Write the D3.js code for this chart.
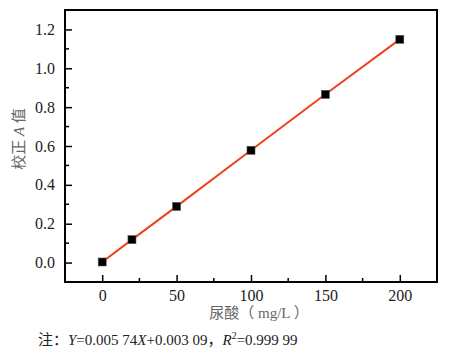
<!DOCTYPE html>
<html>
<head>
<meta charset="utf-8">
<script src="https://cdn.jsdelivr.net/npm/d3@7"></script>
<style>
  body { margin: 0; background: #fff; }
  svg text { font-family: "Liberation Serif", "Noto Sans CJK SC", serif; }
</style>
</head>
<body>
<svg id="chart" width="458" height="353"></svg>
<script>
const conc = [0, 20, 50, 100, 150, 200];
const absorb = [0.003, 0.118, 0.289, 0.578, 0.866, 1.149];
const xTicks = [0, 50, 100, 150, 200];
const yTicks = [0.0, 0.2, 0.4, 0.6, 0.8, 1.0, 1.2];

const svg = d3.select("#chart");
const margin = { top: 10, right: 21, bottom: 71, left: 65 };
const width = +svg.attr("width");
const height = +svg.attr("height");
const innerWidth = width - margin.left - margin.right;
const innerHeight = height - margin.top - margin.bottom;
const font = "Liberation Serif, Noto Sans CJK SC, serif";

const x = d3.scaleLinear().domain([-25, 225]).range([0, innerWidth]);
const y = d3.scaleLinear().domain([-0.1, 1.3]).range([innerHeight, 0]);

const g = svg.append("g").attr("transform", `translate(${margin.left},${margin.top})`);

// frame
g.append("rect")
  .attr("width", innerWidth)
  .attr("height", innerHeight)
  .attr("fill", "none")
  .attr("stroke", "#000")
  .attr("stroke-width", 2);

// minor ticks (inward)
const yMinor = [-0.1, 0.1, 0.3, 0.5, 0.7, 0.9, 1.1];
g.selectAll("line.ymin")
  .data(yMinor)
  .join("line")
  .attr("x1", 0).attr("x2", 4)
  .attr("y1", d => y(d)).attr("y2", d => y(d))
  .attr("stroke", "#000").attr("stroke-width", 1.5);

g.selectAll("line.xmin")
  .data([25, 75, 125, 175])
  .join("line")
  .attr("x1", d => x(d)).attr("x2", d => x(d))
  .attr("y1", innerHeight).attr("y2", innerHeight - 4)
  .attr("stroke", "#000").attr("stroke-width", 1.5);

//y axis
const yAxis = g.append("g")
  .call(d3.axisLeft(y).tickValues(yTicks).tickFormat(d3.format(".1f")).tickSize(-7).tickPadding(10));
yAxis.attr("font-family", font).attr("font-size", 16);
yAxis.select(".domain").remove();
yAxis.selectAll("line").attr("stroke-width", 1.5);
yAxis.selectAll("text").attr("fill", "#222");

//x axis
const xAxis = g.append("g")
  .attr("transform", `translate(0,${innerHeight})`)
  .call(d3.axisBottom(x).tickValues(xTicks).tickSize(-7).tickPadding(8));
xAxis.attr("font-family", font).attr("font-size", 16);
xAxis.select(".domain").remove();
xAxis.selectAll("line").attr("stroke-width", 1.5);
xAxis.selectAll("text").attr("fill", "#222");

// line through points
const pts = conc.map((c, i) => [c, absorb[i]]);
g.append("path")
  .datum(pts)
  .attr("fill", "none")
  .attr("stroke", "#f0401e")
  .attr("stroke-width", 2)
  .attr("d", d3.line().x(d => x(d[0])).y(d => y(d[1])));

// markers
g.selectAll("rect.pt")
  .data(pts)
  .join("rect")
  .attr("class", "pt")
  .attr("x", d => x(d[0]) - 4)
  .attr("y", d => y(d[1]) - 4)
  .attr("width", 8)
  .attr("height", 8)
  .attr("fill", "#000")
  .attr("stroke", "#555")
  .attr("stroke-width", 0.6);

// labels
const yl = svg.append("text")
  .attr("transform", "translate(24,139) rotate(-90)")
  .attr("text-anchor", "middle")
  .attr("font-size", 15)
  .attr("fill", "#666");
yl.append("tspan").text("校正 ");
yl.append("tspan").attr("font-style", "italic").text("A");
yl.append("tspan").text(" 值");

svg.append("text")
  .attr("x", 259)
  .attr("y", 318)
  .attr("text-anchor", "middle")
  .attr("font-size", 15)
  .attr("fill", "#666")
  .text("尿酸（ mg/L ）");

const note = svg.append("text")
  .attr("x", 38)
  .attr("y", 345)
  .attr("font-size", 15)
  .attr("fill", "#222");
note.append("tspan").text("注：");
note.append("tspan").attr("font-style", "italic").text("Y");
note.append("tspan").text("=0.005 74");
note.append("tspan").attr("font-style", "italic").text("X");
note.append("tspan").text("+0.003 09，");
note.append("tspan").attr("font-style", "italic").text("R");
note.append("tspan").attr("font-size", 10).attr("dy", -6).text("2");
note.append("tspan").attr("dy", 6).text("=0.999 99");
</script>
</body>
</html>
